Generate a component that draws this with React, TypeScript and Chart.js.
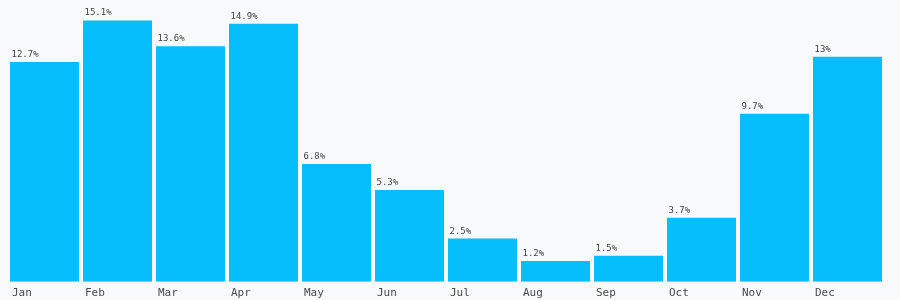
import React, { useEffect, useRef } from "react";
import { Chart, registerables } from "chart.js";

Chart.register(...registerables);

const months = ["Jan", "Feb", "Mar", "Apr", "May", "Jun", "Jul", "Aug", "Sep", "Oct", "Nov", "Dec"];
const values = [12.7, 15.1, 13.6, 14.9, 6.8, 5.3, 2.5, 1.2, 1.5, 3.7, 9.7, 13];

const BAR_COLOR = "#05befb";
const BG = "#f8f9fb";
const FONT = "'DejaVu Sans Mono', monospace";

const valueLabels = {
  id: "valueLabels",
  afterDatasetsDraw(chart: any) {
    const ctx = chart.ctx;
    const meta = chart.getDatasetMeta(0);
    ctx.save();
    ctx.font = `9px ${FONT}`;
    ctx.fillStyle = "#444";
    ctx.textAlign = "left";
    ctx.textBaseline = "alphabetic";
    meta.data.forEach((bar: any, i: number) => {
      const w = bar.width;
      ctx.fillText(String(values[i]) + "%", bar.x - w / 2 + 1.5, bar.y - 5);
    });
    ctx.restore();
  },
};

const bgPlugin = {
  id: "bgFill",
  beforeDraw(chart: any) {
    const ctx = chart.ctx;
    ctx.save();
    ctx.fillStyle = BG;
    ctx.fillRect(0, 0, chart.width, chart.height);
    ctx.restore();
  },
};

export default function App() {
  const ref = useRef<HTMLCanvasElement | null>(null);
  useEffect(() => {
    if (!ref.current) return;
    const chart = new Chart(ref.current, {
      type: "bar",
      data: {
        labels: months,
        datasets: [
          {
            data: values,
            backgroundColor: BAR_COLOR,
            borderWidth: 0,
            categoryPercentage: 1,
            barPercentage: 69 / 73,
          },
        ],
      },
      options: {
        animation: false,
        responsive: false,
        maintainAspectRatio: false,
        layout: { padding: { top: 4.8, left: 8, right: 16, bottom: 2 } },
        plugins: { legend: { display: false }, tooltip: { enabled: false } },
        scales: {
          x: {
            grid: { display: false, drawTicks: false },
            border: { display: false },
            ticks: {
              font: { family: FONT, size: 11 },
              color: "#4a4a4a",
              align: "start",
              labelOffset: -32.5,
              padding: 5,
              maxRotation: 0,
              autoSkip: false,
            },
          },
          y: {
            display: false,
            min: 0,
            max: 16,
          },
        },
      },
      plugins: [bgPlugin, valueLabels],
    });
    return () => chart.destroy();
  }, []);
  return (
    <div style={{ position: "fixed", left: 0, top: 0, width: 900, height: 300, background: BG, overflow: "hidden" }}>
      <canvas ref={ref} width={900} height={307} style={{ width: 900, height: 307, display: "block" }} />
    </div>
  );
}
